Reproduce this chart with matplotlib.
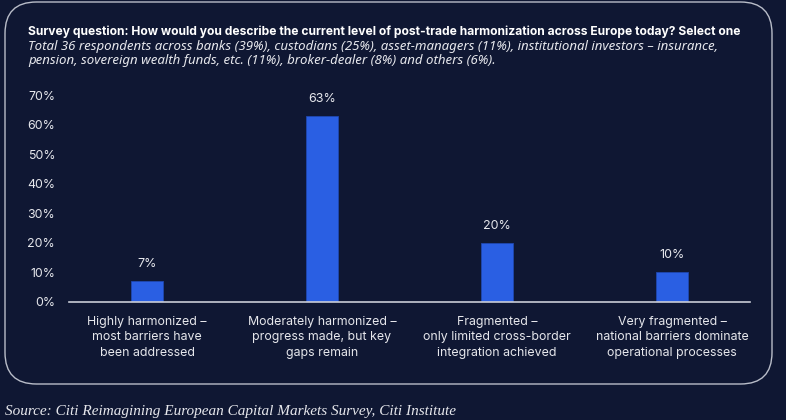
import matplotlib.pyplot as plt
from matplotlib.patches import FancyBboxPatch

# data
categories = [
    "Highly harmonized \u2013\nmost barriers have\nbeen addressed",
    "Moderately harmonized \u2013\nprogress made, but key\ngaps remain",
    "Fragmented \u2013\nonly limited cross-border\nintegration achieved",
    "Very fragmented \u2013\nnational barriers dominate\noperational processes",
]
values = [7, 63, 20, 10]
yticks = [0, 10, 20, 30, 40, 50, 60, 70]
ytick_labels = ["%d%%" % t for t in yticks]

title = "Survey question: How would you describe the current level of post-trade harmonization across Europe today? Select one"
subtitle = ("Total 36 respondents across banks (39%), custodians (25%), asset-managers (11%), institutional investors \u2013 insurance,\n"
            "pension, sovereign wealth funds, etc. (11%), broker-dealer (8%) and others (6%).")
source = "Source: Citi Reimagining European Capital Markets Survey, Citi Institute"

bg = "#0f1733"
bar_col = "#2a5fe3"
txt = "#e6e7ec"

W, H = 786, 420
fig = plt.figure(figsize=(W / 100, H / 100), dpi=100, facecolor=bg)

# rounded panel
panel = FancyBboxPatch((5 / W, 36 / H), 767 / W, 382 / H,
                       boxstyle="round,pad=0,rounding_size=0.04",
                       transform=fig.transFigure, facecolor="none",
                       edgecolor="#b9bdc9", linewidth=1.0, mutation_aspect=W / H)
fig.patches.append(panel)

ax = fig.add_axes([69 / W, 118 / H, 681 / W, 207 / H])
ax.set_facecolor(bg)
x = range(len(values))
bars = ax.bar(x, values, width=0.185, color=bar_col, edgecolor="#1f47b0", linewidth=0.6)
ax.set_xlim(-0.446, 3.446)
ax.set_ylim(0, 70)
ax.set_yticks(yticks)
ax.set_yticklabels(ytick_labels)
ax.set_xticks(list(x))
ax.set_xticklabels(categories, linespacing=1.4)
for s in ["top", "right", "left"]:
    ax.spines[s].set_visible(False)
ax.spines["bottom"].set_color("#c9ccd6")
ax.spines["bottom"].set_linewidth(1.2)
ax.tick_params(axis="both", length=0, colors=txt, labelsize=8.9)
ax.tick_params(axis="y", pad=10)
ax.tick_params(axis="x", pad=10)
for lab in ax.get_xticklabels() + ax.get_yticklabels():
    lab.set_fontfamily("Inter")

for i, v in enumerate(values):
    ax.annotate("%d%%" % v, (i, v), xytext=(0, 8), textcoords="offset points",
                ha="center", va="bottom", color=txt, fontsize=9, family="Inter")

fig.text(28 / W, 1 - 25 / H, title, color="white", fontsize=8.7, fontweight="bold",
         family="Inter", ha="left", va="top")
fig.text(28 / W, 1 - 40 / H, subtitle, color=txt, fontsize=9.55, style="italic",
         family=["Noto Sans", "DejaVu Sans"], ha="left", va="top", linespacing=1.12)
fig.text(5 / W, 1 - 415 / H, source, color=txt, fontsize=11, style="italic",
         family="Liberation Serif", ha="left", va="baseline")

fig.savefig("out.png", dpi=100, facecolor=bg)
